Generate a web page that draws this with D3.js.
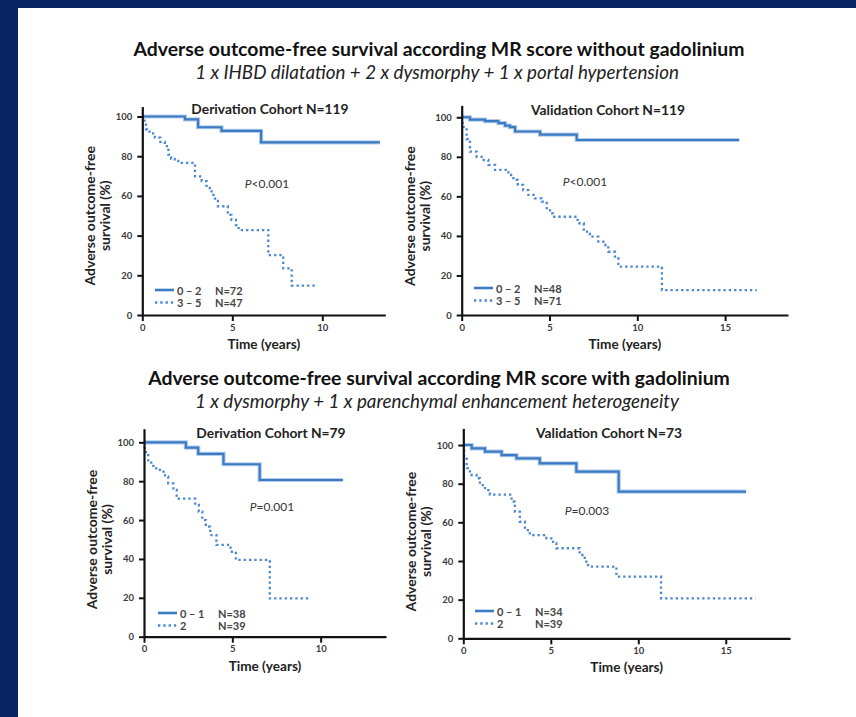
<!DOCTYPE html>
<html>
<head>
<meta charset="utf-8">
<script src="https://cdn.jsdelivr.net/npm/d3@7"></script>
<style>
  html, body { margin: 0; padding: 0; background: #0b2463; }
  svg { display: block; font-family: Lato, "Open Sans", sans-serif; }
</style>
</head>
<body>
<script>
// ---- data (time in years, survival in %) ----
const xTicksShort = [0, 5, 10];
const xTicksLong = [0, 5, 10, 15];
const yTicks = [0, 20, 40, 60, 80, 100];

// top row: MR score without gadolinium
const derivNoGadLowT = [0, 2.37, 3.1, 4.4, 6.6, 13.2];
const derivNoGadLowS = [100, 98.6, 94.6, 92.8, 87.0, 87.0];
const derivNoGadHighT = [0, 0.05, 0.2, 0.4, 0.7, 1.0, 1.25, 1.45, 1.6, 1.8, 2.0, 2.93, 3.3, 3.57, 3.85, 4.04, 4.2, 4.75, 4.95, 5.2, 5.35, 7.0, 7.83, 8.3, 9.7];
const derivNoGadHighS = [100, 97.9, 93.6, 91.5, 89.4, 87.2, 85.1, 80.8, 78.7, 77.6, 76.6, 69.8, 67.5, 64.0, 60.5, 57.5, 54.8, 50.4, 47.9, 45.3, 42.8, 30.2, 23.5, 14.8, 14.8];

const validNoGadLowT = [0, 0.47, 1.33, 2.09, 2.47, 2.75, 3.04, 4.46, 6.55, 15.8];
const validNoGadLowS = [100, 98.8, 98.0, 97.0, 95.8, 95.0, 92.8, 91.2, 88.5, 88.5];
const validNoGadHighT = [0, 0.05, 0.28, 0.47, 0.85, 1.14, 1.52, 1.9, 2.66, 2.94, 3.2, 3.5, 3.8, 4.17, 4.55, 4.84, 5.03, 5.2, 6.6, 6.95, 7.3, 7.78, 8.06, 8.35, 8.73, 8.92, 11.4, 16.8];
const validNoGadHighS = [100, 95.0, 89.0, 82.6, 80.0, 78.4, 75.9, 73.4, 70.8, 68.3, 65.8, 63.2, 60.7, 59.0, 57.3, 54.0, 51.4, 49.7, 46.4, 42.2, 39.6, 37.1, 35.4, 32.0, 28.7, 24.5, 12.6, 12.6];

// bottom row: MR score with gadolinium
const derivGadLowT = [0, 2.37, 3.07, 4.5, 6.55, 11.26];
const derivGadLowS = [100, 97.3, 94.0, 88.7, 80.6, 80.6];
const derivGadHighT = [0, 0.05, 0.24, 0.53, 0.9, 1.19, 1.37, 1.66, 1.85, 2.9, 3.1, 3.3, 3.5, 3.75, 4.1, 4.9, 5.2, 7.12, 9.38];
const derivGadHighS = [100, 95.0, 89.5, 86.6, 84.9, 82.3, 78.9, 75.5, 71.0, 67.8, 64.3, 60.0, 56.6, 52.3, 47.2, 43.7, 39.5, 19.7, 19.7];

const validGadLowT = [0, 0.48, 1.24, 2.19, 3.04, 4.37, 6.46, 8.88, 16.16];
const validGadLowS = [100, 98.3, 96.6, 94.8, 93.1, 90.5, 86.2, 75.9, 75.9];
const validGadHighT = [0, 0.05, 0.19, 0.38, 0.76, 0.95, 1.24, 1.52, 2.76, 2.95, 3.23, 3.52, 3.8, 4.75, 5.13, 5.32, 6.65, 6.94, 7.13, 8.75, 11.3, 16.7];
const validGadHighS = [100, 94.0, 88.0, 84.5, 82.8, 79.3, 76.7, 74.3, 70.7, 65.5, 60.3, 56.0, 53.4, 51.7, 49.1, 46.6, 43.1, 39.7, 37.1, 31.9, 20.7, 20.7];

const panelTitles = ["Derivation Cohort N=119", "Validation Cohort N=119", "Derivation Cohort N=79", "Validation Cohort N=73"];
const pValues = ["<0.001", "<0.001", "=0.001", "=0.003"];
const groupNames = [["0 \u2013 2", "3 \u2013 5"], ["0 \u2013 2", "3 \u2013 5"], ["0 \u2013 1", "2"], ["0 \u2013 1", "2"]];
const groupNs = [["N=72", "N=47"], ["N=48", "N=71"], ["N=38", "N=39"], ["N=34", "N=39"]];

const width = 856;
const height = 717;
const solidColor = "#3a7bc4";
const haloColor = "#b5cdea";
const dotColor = "#4b87d0";

const svg = d3.select("body").append("svg")
    .attr("width", width)
    .attr("height", height);

svg.append("rect").attr("width", width).attr("height", height).attr("fill", "#0b2463");
svg.append("rect").attr("x", 18).attr("y", 8).attr("width", width - 18).attr("height", height - 8).attr("fill", "#fff");

// section headings
const headings = [
    {y: 48, text: "Adverse outcome-free survival according MR score without gadolinium", sub: "1 x IHBD dilatation + 2 x dysmorphy + 1 x portal hypertension", subY: 71},
    {y: 377, text: "Adverse outcome-free survival according MR score with gadolinium", sub: "1 x dysmorphy + 1 x parenchymal enhancement heterogeneity", subY: 400}
];
headings.forEach(h => {
    svg.append("text")
        .attr("x", 439).attr("y", h.y)
        .attr("text-anchor", "middle").attr("dominant-baseline", "central")
        .style("font-size", "19.4px").style("font-weight", "bold").attr("fill", "#111")
        .text(h.text);
    svg.append("text")
        .attr("x", 437).attr("y", h.subY)
        .attr("text-anchor", "middle").attr("dominant-baseline", "central")
        .style("font-size", "18.8px").style("font-style", "italic").attr("fill", "#222")
        .text(h.sub);
});

const panels = [
    {x0: 142.3, x1: 385.3, xMax: 13.5, yBottom: 315, yTop: 106.6, yMax: 105, ticks: xTicksShort,
     low: [derivNoGadLowT, derivNoGadLowS], high: [derivNoGadHighT, derivNoGadHighS],
     titleX: 270, titleY: 108, pX: 267, pY: 183, legX: 155, legY: 290},
    {x0: 461.7, x1: 788, xMax: 18.58, yBottom: 315, yTop: 105.4, yMax: 106, ticks: xTicksLong,
     low: [validNoGadLowT, validNoGadLowS], high: [validNoGadHighT, validNoGadHighS],
     titleX: 608, titleY: 109, pX: 585, pY: 181, legX: 474, legY: 288},
    {x0: 144, x1: 386, xMax: 13.7, yBottom: 636.7, yTop: 428.7, yMax: 107, ticks: xTicksShort,
     low: [derivGadLowT, derivGadLowS], high: [derivGadHighT, derivGadHighS],
     titleX: 271, titleY: 432, pX: 272, pY: 506, legX: 158, legY: 613},
    {x0: 463.3, x1: 790, xMax: 18.67, yBottom: 638.3, yTop: 428.4, yMax: 108.6, ticks: xTicksLong,
     low: [validGadLowT, validGadLowS], high: [validGadHighT, validGadHighS],
     titleX: 609, titleY: 432, pX: 587, pY: 510, legX: 475, legY: 611}
];

panels.forEach((p, i) => {
    const x = d3.scaleLinear().domain([0, p.xMax]).range([p.x0, p.x1]);
    const y = d3.scaleLinear().domain([0, p.yMax]).range([p.yBottom, p.yTop]);
    const g = svg.append("g");

    const toPoints = arr => arr[0].map((t, k) => [t, arr[1][k]]);
    const line = d3.line()
        .x(d => x(d[0]))
        .y(d => y(d[1]))
        .curve(d3.curveStepAfter);

    // curves
    g.append("path").attr("d", line(toPoints(p.low)))
        .attr("fill", "none").attr("stroke", haloColor).attr("stroke-width", 4.2);
    g.append("path").attr("d", line(toPoints(p.low)))
        .attr("fill", "none").attr("stroke", solidColor).attr("stroke-width", 2.2);
    g.append("path").attr("d", line(toPoints(p.high)))
        .attr("fill", "none").attr("stroke", dotColor).attr("stroke-width", 2.3)
        .attr("stroke-dasharray", "2.3,3");

    // axes
    const xAxis = g.append("g")
        .attr("transform", `translate(0,${p.yBottom})`)
        .call(d3.axisBottom(x).tickValues(p.ticks).tickSize(6).tickSizeOuter(0).tickPadding(3));
    const yAxis = g.append("g")
        .attr("transform", `translate(${p.x0},0)`)
        .call(d3.axisLeft(y).tickValues(yTicks).tickSize(5).tickSizeOuter(0).tickPadding(5));
    [xAxis, yAxis].forEach(a => {
        a.select(".domain").attr("stroke", "#111").attr("stroke-width", 2.2);
        a.selectAll(".tick line").attr("stroke", "#111").attr("stroke-width", 2);
        a.selectAll(".tick text")
            .attr("fill", "#3a3a3a")
            .style("font-size", "9.5px").style("font-weight", "bold")
            .style("font-family", "Lato, sans-serif");
    });

    // panel title
    g.append("text")
        .attr("x", p.titleX).attr("y", p.titleY)
        .attr("text-anchor", "middle").attr("dominant-baseline", "central")
        .style("font-size", "13.8px").style("font-weight", "bold").attr("fill", "#222")
        .text(panelTitles[i]);

    // axis titles
    g.append("text")
        .attr("x", (p.x0 + p.x1) / 2).attr("y", p.yBottom + 29)
        .attr("text-anchor", "middle").attr("dominant-baseline", "central")
        .style("font-size", "13.6px").style("font-weight", "bold").attr("fill", "#222")
        .text("Time (years)");
    const yMid = (p.yBottom + y(100)) / 2;
    const yl = g.append("text")
        .attr("transform", `translate(${p.x0 - 53},${yMid}) rotate(-90)`)
        .attr("text-anchor", "middle").attr("dominant-baseline", "central")
        .style("font-size", "14px").style("font-weight", "bold").attr("fill", "#222");
    yl.append("tspan").attr("x", 0).attr("dy", 0).text("Adverse outcome-free");
    yl.append("tspan").attr("x", 0).attr("dy", 15).text("survival (%)");

    // p value
    const pt = g.append("text")
        .attr("x", p.pX).attr("y", p.pY)
        .attr("text-anchor", "middle").attr("dominant-baseline", "central")
        .style("font-size", "12px").attr("fill", "#333");
    pt.append("tspan").style("font-style", "italic").text("P");
    pt.append("tspan").text(pValues[i]);

    // legend
    [0, 1].forEach(r => {
        const ly = p.legY + r * 12.5;
        g.append("line")
            .attr("x1", p.legX).attr("x2", p.legX + 19)
            .attr("y1", ly).attr("y2", ly)
            .attr("stroke", r === 0 ? solidColor : dotColor)
            .attr("stroke-width", r === 0 ? 2.6 : 2.3)
            .attr("stroke-dasharray", r === 0 ? null : "2.3,3");
        g.append("text")
            .attr("x", p.legX + 22).attr("y", ly)
            .attr("dominant-baseline", "central")
            .style("font-size", "11px").style("font-weight", "bold").attr("fill", "#444")
            .text(groupNames[i][r]);
        g.append("text")
            .attr("x", p.legX + 60).attr("y", ly)
            .attr("dominant-baseline", "central")
            .style("font-size", "11px").style("font-weight", "bold").attr("fill", "#444")
            .text(groupNs[i][r]);
    });
});
</script>
</body>
</html>
